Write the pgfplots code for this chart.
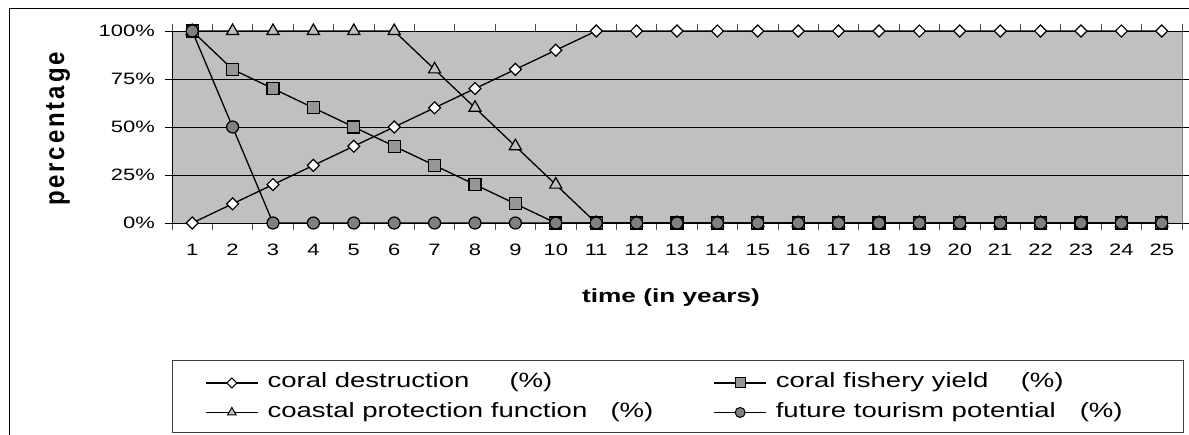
\documentclass[border=0pt]{standalone}
\usepackage{pgfplots}
\pgfplotsset{compat=1.18}
\usepackage{graphicx}
\usepackage{fontspec}
\setmainfont{Liberation Sans}
\newfontfamily\ylabfont{Liberation Sans}[LetterSpace=12]
\newcommand{\sx}[1]{\scalebox{1.33}[1]{#1}}
\definecolor{plotbg}{HTML}{C0C0C0}
\definecolor{sqfill}{HTML}{969696}
\definecolor{circfill}{HTML}{808080}
\definecolor{areaedge}{HTML}{808080}

\begin{document}
\begin{tikzpicture}[x=1pt,y=1pt]
\useasboundingbox (0,0) rectangle (1189,434);
\begin{axis}[
  scale only axis, width=1010pt, height=192pt,
  at={(172pt,211pt)}, anchor=south west,
  xmin=0.5, xmax=25.5, ymin=0, ymax=100,
  clip=false,
  axis line style={draw=none},
  axis background/.style={fill=plotbg, draw=areaedge, line width=0.8pt},
  xtick={1,...,25}, ytick={0,25,50,75,100},
  minor xtick={0.5,1.5,...,25.5},
  tick align=outside, major tick length=7pt, minor tick length=7pt,
  major x tick style={draw=none},
  minor x tick style={black!70, line width=0.8pt},
  major y tick style={black, line width=0.8pt},
  ymajorgrids, major y grid style={black, line width=0.8pt},
  /pgf/number format/assume math mode=true,
  tick label style={font=\fontsize{16.5}{18}\selectfont, inner sep=0pt},
  xticklabel={\sx{\pgfmathprintnumber{\tick}}},
  yticklabel={\sx{\pgfmathprintnumber{\tick}\%}},
  yticklabel style={anchor=east, xshift=-10pt},
  xticklabel style={anchor=north, yshift=-14pt},
  legend columns=2,
  legend cell align=left,
  legend style={draw=none, fill=none, at={(0.0327,-0.78)}, anchor=north west,
    font=\fontsize{20.7}{24}\selectfont, inner sep=0pt, row sep=9.5pt,
    nodes={inner sep=0pt, text height=15pt, text depth=5pt},
    /tikz/every odd column/.append style={column sep=9pt},
    /tikz/every even column/.append style={column sep=0pt}},
  legend image code/.code={\draw[#1, line width=1.3pt, mark size=5pt, mark repeat=2, mark phase=2] plot coordinates {(0pt,0pt) (26pt,0pt) (52pt,0pt)};},
]
% coral destruction
\addplot[forget plot, black, line width=1.3pt, mark=diamond*, mark size=6pt, mark options={fill=white, xscale=1.33, line width=1.2pt}] coordinates {
(1,0) (2,10) (3,20) (4,30) (5,40) (6,50) (7,60) (8,70) (9,80) (10,90)
(11,100) (12,100) (13,100) (14,100) (15,100) (16,100) (17,100) (18,100)
(19,100) (20,100) (21,100) (22,100) (23,100) (24,100) (25,100)};
% coastal protection function
\addplot[forget plot, black, line width=1.3pt, mark=triangle*, mark size=7pt, mark options={fill=plotbg, line width=1.2pt}] coordinates {
(1,100) (2,100) (3,100) (4,100) (5,100) (6,100) (7,80) (8,60) (9,40) (10,20)
(11,0) (12,0) (13,0) (14,0) (15,0) (16,0) (17,0) (18,0)
(19,0) (20,0) (21,0) (22,0) (23,0) (24,0) (25,0)};
% coral fishery yield
\addplot[forget plot, black, line width=1.3pt, mark=square*, mark size=6pt, mark options={fill=sqfill, line width=1.2pt}] coordinates {
(1,100) (2,80) (3,70) (4,60) (5,50) (6,40) (7,30) (8,20) (9,10) (10,0)
(11,0) (12,0) (13,0) (14,0) (15,0) (16,0) (17,0) (18,0)
(19,0) (20,0) (21,0) (22,0) (23,0) (24,0) (25,0)};
% future tourism potential
\addplot[forget plot, black, line width=1.3pt, mark=*, mark size=6pt, mark options={fill=circfill, line width=1.2pt}] coordinates {
(1,100) (2,50) (3,0) (4,0) (5,0) (6,0) (7,0) (8,0) (9,0) (10,0)
(11,0) (12,0) (13,0) (14,0) (15,0) (16,0) (17,0) (18,0)
(19,0) (20,0) (21,0) (22,0) (23,0) (24,0) (25,0)};

\addlegendimage{black, mark=diamond*, mark options={fill=white, xscale=1.33, line width=1pt}}
\addlegendentry{\makebox[446pt][l]{\makebox[242pt][l]{\sx{coral destruction}}\sx{(\%)}}}
\addlegendimage{black, mark=square*, mark options={fill=sqfill, line width=1pt}}
\addlegendentry{\makebox[245pt][l]{\sx{coral fishery yield}}\sx{(\%)}}
\addlegendimage{black, mark=triangle*, mark options={fill=plotbg, line width=1pt}}
\addlegendentry{\makebox[446pt][l]{\makebox[343pt][l]{\sx{coastal protection function}}\sx{(\%)}}}
\addlegendimage{black, mark=*, mark options={fill=circfill, line width=1pt}}
\addlegendentry{\makebox[304pt][l]{\sx{future tourism potential}}\sx{(\%)}}

\draw[black, line width=1pt] (axis cs:0.5,100) -- (axis cs:0.5,0) -- (axis cs:25.5,0);
\end{axis}
% axis titles
\node[font=\fontsize{19}{22}\selectfont\bfseries] at (671,136) {\scalebox{1.38}[1]{time (in years)}};
\node[font=\fontsize{24}{26}\selectfont, rotate=90] at (58,305) {\scalebox{1}[1.15]{\ylabfont\bfseries percentage}};
\draw[black!75, line width=1pt] (172,2) rectangle (1183,73);
\draw[black, line width=1pt] (9.5,-5) -- (9.5,425.5) -- (1200,425.5);
\end{tikzpicture}
\end{document}
